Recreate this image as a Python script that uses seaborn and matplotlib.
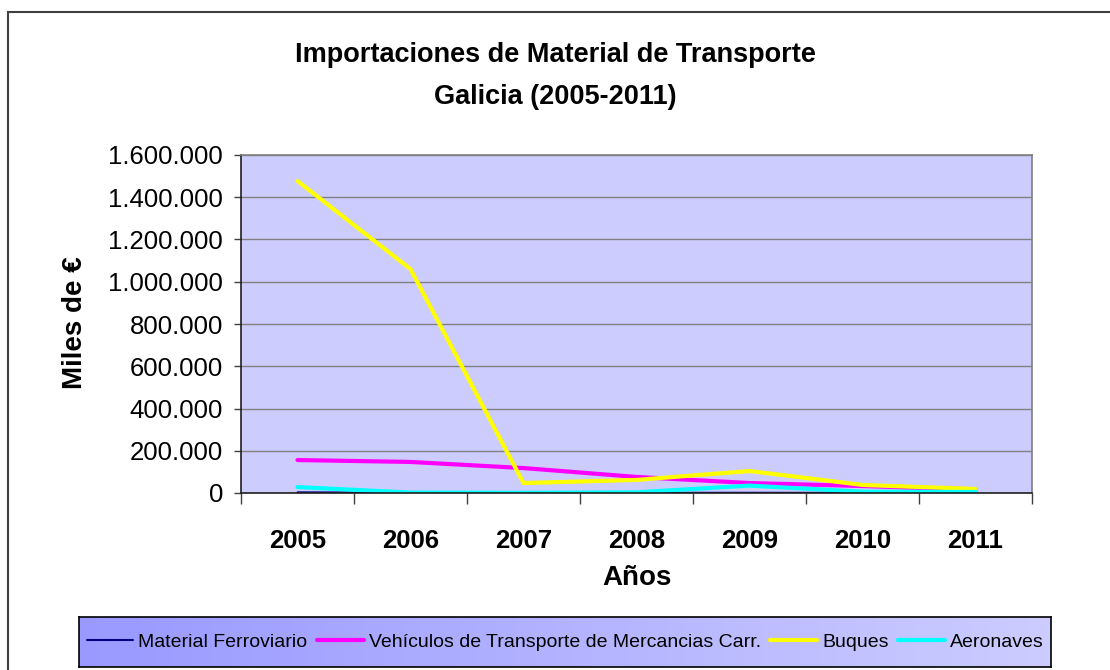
import numpy as np
import pandas as pd
import matplotlib
matplotlib.use('Agg')
import matplotlib.pyplot as plt
import seaborn as sns
from matplotlib.patches import Rectangle
from matplotlib.ticker import FixedLocator, FuncFormatter

years = ['2005', '2006', '2007', '2008', '2009', '2010', '2011']
ferroviario = [3000, 1500, 500, 800, 1000, 500, 300]
vehiculos = [156000, 147000, 118000, 76000, 47000, 33000, 16000]
buques = [1477000, 1060000, 47000, 62000, 104000, 38000, 19000]
aeronaves = [28000, 2000, 1000, 3000, 35000, 6000, 5000]

series_names = ['Material Ferroviario',
                'Vehículos de Transporte de Mercancias Carr.',
                'Buques', 'Aeronaves']
series_values = [ferroviario, vehiculos, buques, aeronaves]
series_colors = ['#000080', '#FF00FF', '#FFFF00', '#00FFFF']
series_widths = [1.5, 3.0, 3.0, 3.0]

sns.set_style('white')
plt.rcParams['font.family'] = ['Liberation Sans', 'DejaVu Sans']
plt.rcParams['text.color'] = 'black'
plt.rcParams['xtick.color'] = 'black'
plt.rcParams['ytick.color'] = 'black'
plt.rcParams['axes.labelcolor'] = 'black'

W, H = 1110, 670
fig = plt.figure(figsize=(W / 100, H / 100), dpi=100)

# outer chart frame
fig.patches.append(Rectangle((8 / W, -0.01), 1.2, 1 - 12 / H + 0.01,
                             transform=fig.transFigure, fill=False,
                             edgecolor='#404040', linewidth=1.5))

ax = fig.add_axes([241 / W, 1 - 493 / H, (1032 - 241) / W, (493 - 155) / H])
ax.set_facecolor('#CCCCFF')

for name, vals, col, lw in zip(series_names, series_values, series_colors, series_widths):
    df = pd.DataFrame({'pos': np.arange(len(years)), 'valor': vals})
    sns.lineplot(data=df, x='pos', y='valor', color=col, linewidth=lw,
                 label=name, ax=ax, legend=False)

ax.set_xlim(-0.5, len(years) - 0.5)
ax.set_ylim(0, 1600000)
ax.set_yticks(np.arange(0, 1600001, 200000))
ax.yaxis.set_major_formatter(FuncFormatter(lambda v, p: f'{v:,.0f}'.replace(',', '.')))
ax.grid(axis='y', color='#808080', linewidth=1)
ax.set_axisbelow(True)

ax.xaxis.set_major_locator(FixedLocator(np.arange(-0.5, len(years), 1.0)))
ax.xaxis.set_minor_locator(FixedLocator(np.arange(len(years))))
ax.set_xticklabels([], minor=False)
ax.set_xticklabels(years, minor=True, fontsize=18.5, fontweight='bold')
ax.tick_params(axis='x', which='major', direction='out', length=8, width=1,
               color='#404040', bottom=True)
ax.tick_params(axis='x', which='minor', length=0, pad=26)
ax.tick_params(axis='y', direction='out', length=5, width=1, color='#404040',
               left=True, labelsize=18.5, pad=8)

for side in ['left', 'bottom']:
    ax.spines[side].set_color('#202020')
    ax.spines[side].set_linewidth(1.2)
for side in ['top', 'right']:
    ax.spines[side].set_color('#808080')
    ax.spines[side].set_linewidth(1.2)

ax.set_xlabel('')
ax.set_ylabel('')
fig.text(637 / W, 1 - 578 / H, 'Años', ha='center', va='center',
         fontsize=20, fontweight='bold')
fig.text(75 / W, 1 - 323 / H, 'Miles de €', ha='center', va='center',
         rotation=90, fontsize=20, fontweight='bold')

fig.text(0.5, 1 - 55 / H, 'Importaciones de Material de Transporte',
         ha='center', va='center', fontsize=19.5, fontweight='bold')
fig.text(0.5, 1 - 97 / H, 'Galicia (2005-2011)',
         ha='center', va='center', fontsize=19.5, fontweight='bold')

# legend box with horizontal gradient
leg_ax = fig.add_axes([79 / W, 1 - 667 / H, (1051 - 79) / W, (667 - 617) / H])
grad = np.linspace(0, 1, 256).reshape(1, -1)
cmap = matplotlib.colors.LinearSegmentedColormap.from_list('g', ['#9999FF', '#CCCCFF'])
leg_ax.imshow(grad, aspect='auto', cmap=cmap, extent=[0, 1, 0, 1])
leg_ax.set_xticks([])
leg_ax.set_yticks([])
for s in leg_ax.spines.values():
    s.set_color('#000000')
    s.set_linewidth(1.2)

handles, labels = ax.get_legend_handles_labels()
leg_ax.legend(handles, labels, loc='center', ncol=4, frameon=False,
              fontsize=14, handlelength=2.4, handletextpad=0.25,
              columnspacing=0.5, borderaxespad=0)

fig.savefig('out.png', dpi=100)
